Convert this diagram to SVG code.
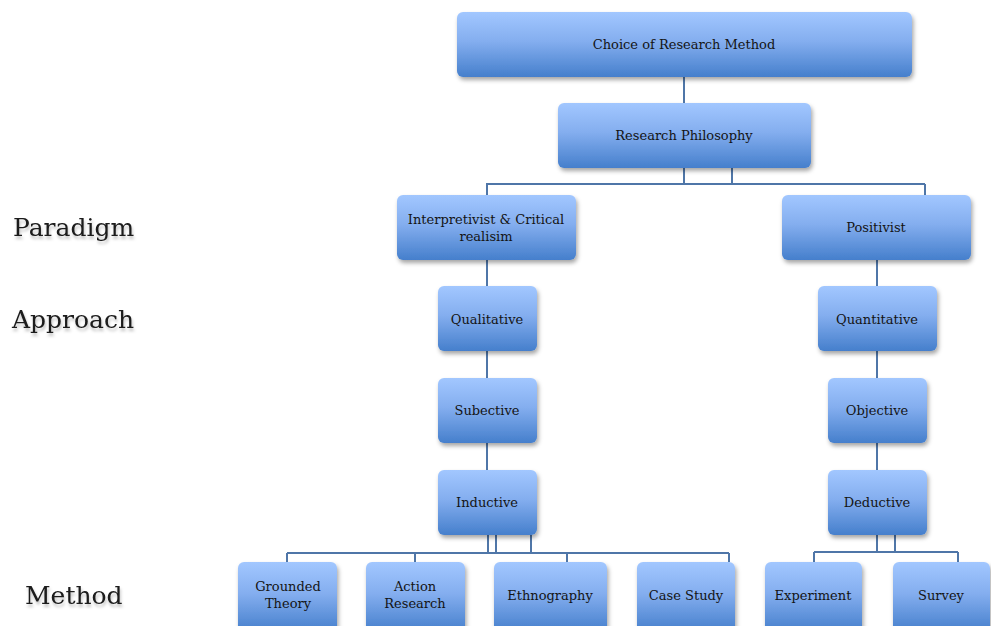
<svg xmlns="http://www.w3.org/2000/svg" width="991" height="626" viewBox="0 0 991 626">
  <style>
    .box { fill: url(#boxFill); filter: url(#shadow); }
    .lbl { font-family: "DejaVu Serif", "Liberation Serif", serif; font-size: 13px; fill: #141414; text-anchor: middle; dominant-baseline: central; }
    .side { font-family: "DejaVu Serif", "Liberation Serif", serif; font-size: 25px; fill: #1a1a1a; filter: url(#textShadow); }
    .link { fill: none; stroke: #4f76a8; stroke-width: 2; }
  </style>
  <defs>
    <linearGradient id="boxFill" x1="0" y1="0" x2="0" y2="1">
      <stop offset="0" stop-color="#a2c7ff"/>
      <stop offset="0.45" stop-color="#84aeef"/>
      <stop offset="1" stop-color="#457fcc"/>
    </linearGradient>
    <filter id="shadow" x="-10%" y="-10%" width="125%" height="140%">
      <feDropShadow dx="1.5" dy="3" stdDeviation="2" flood-color="#000" flood-opacity="0.35"/>
    </filter>
    <filter id="textShadow" x="-10%" y="-20%" width="120%" height="160%">
      <feDropShadow dx="1" dy="3" stdDeviation="1.5" flood-color="#000" flood-opacity="0.25"/>
    </filter>
  </defs>

  <!-- connectors -->
  <g id="connectors">
    <path class="link" d="M684 77 V103"/>
    <path class="link" d="M684 168 V184 M732 168 V184 M486 184 H925 M487 184 V195 M925 184 V195"/>
    <path class="link" d="M487 260 V286 M487 351 V378 M487 443 V470"/>
    <path class="link" d="M877 260 V286 M877 351 V378 M877 443 V470"/>
    <path class="link" d="M488 535 V553 M496 535 V553 M531 535 V553 M287 553 H729 M287 553 V562 M415 553 V562 M567 553 V562 M729 553 V562"/>
    <path class="link" d="M877 535 V552 M895 535 V552 M814 552 H958 M814 552 V562 M958 552 V562"/>
  </g>

  <!-- side labels -->
  <text class="side" x="13" y="236">Paradigm</text>
  <text class="side" x="12" y="328">Approach</text>
  <text class="side" x="25" y="604">Method</text>

  <!-- nodes -->
  <g id="choice">
    <rect class="box" x="457" y="12" width="455" height="65" rx="6"/>
    <text class="lbl" x="684" y="44">Choice of Research Method</text>
  </g>
  <g id="philosophy">
    <rect class="box" x="558" y="103" width="253" height="65" rx="6"/>
    <text class="lbl" x="684" y="135">Research Philosophy</text>
  </g>
  <g id="interpretivist">
    <rect class="box" x="397" y="195" width="179" height="65" rx="6"/>
    <text class="lbl" x="486" y="219">Interpretivist &amp; Critical</text>
    <text class="lbl" x="486" y="236">realisim</text>
  </g>
  <g id="positivist">
    <rect class="box" x="782" y="195" width="189" height="65" rx="6"/>
    <text class="lbl" x="876" y="227">Positivist</text>
  </g>
  <g id="qualitative">
    <rect class="box" x="438" y="286" width="99" height="65" rx="6"/>
    <text class="lbl" x="487" y="319">Qualitative</text>
  </g>
  <g id="quantitative">
    <rect class="box" x="818" y="286" width="119" height="65" rx="6"/>
    <text class="lbl" x="877" y="319">Quantitative</text>
  </g>
  <g id="subjective">
    <rect class="box" x="438" y="378" width="99" height="65" rx="6"/>
    <text class="lbl" x="487" y="410">Subective</text>
  </g>
  <g id="objective">
    <rect class="box" x="828" y="378" width="99" height="65" rx="6"/>
    <text class="lbl" x="877" y="410">Objective</text>
  </g>
  <g id="inductive">
    <rect class="box" x="438" y="470" width="99" height="65" rx="6"/>
    <text class="lbl" x="487" y="502">Inductive</text>
  </g>
  <g id="deductive">
    <rect class="box" x="828" y="470" width="99" height="65" rx="6"/>
    <text class="lbl" x="877" y="502">Deductive</text>
  </g>
  <g id="grounded">
    <rect class="box" x="238" y="562" width="99" height="70" rx="6"/>
    <text class="lbl" x="288" y="586">Grounded</text>
    <text class="lbl" x="288" y="603">Theory</text>
  </g>
  <g id="action">
    <rect class="box" x="366" y="562" width="99" height="70" rx="6"/>
    <text class="lbl" x="415" y="586">Action</text>
    <text class="lbl" x="415" y="603">Research</text>
  </g>
  <g id="ethnography">
    <rect class="box" x="494" y="562" width="113" height="70" rx="6"/>
    <text class="lbl" x="550" y="595">Ethnography</text>
  </g>
  <g id="casestudy">
    <rect class="box" x="637" y="562" width="98" height="70" rx="6"/>
    <text class="lbl" x="686" y="595">Case Study</text>
  </g>
  <g id="experiment">
    <rect class="box" x="765" y="562" width="97" height="70" rx="6"/>
    <text class="lbl" x="813" y="595">Experiment</text>
  </g>
  <g id="survey">
    <rect class="box" x="893" y="562" width="97" height="70" rx="6"/>
    <text class="lbl" x="941" y="595">Survey</text>
  </g>
</svg>
